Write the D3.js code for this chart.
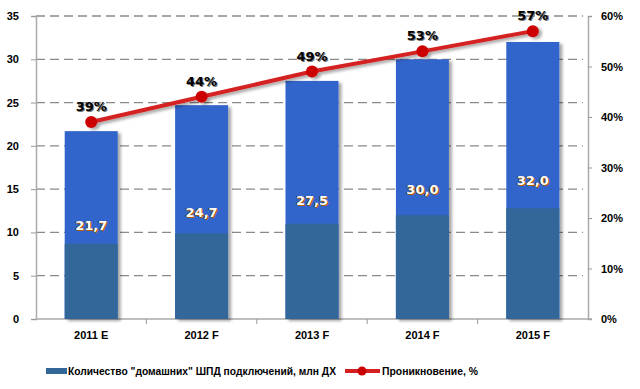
<!DOCTYPE html>
<html><head><meta charset="utf-8">
<script src="https://cdn.jsdelivr.net/npm/d3@7"></script>
<style>
body{margin:0;background:#fff;}
svg{display:block;font-family:Tahoma,"DejaVu Sans","Liberation Sans",sans-serif;}
.vlab{text-shadow:1px 1px 0 #b85c00,-1px 0 0 #333;}
</style></head><body>
<svg id="c" width="640" height="389"></svg>
<script>
const categories = ["2011 E","2012 F","2013 F","2014 F","2015 F"];
const households = [21.7, 24.7, 27.5, 30.0, 32.0];
const darkPart = [8.7, 9.9, 11.0, 12.0, 12.8];
const penetration = [0.39, 0.44, 0.49, 0.53, 0.57];
const leftTicks = [0,5,10,15,20,25,30,35];
const rightTicks = [0,0.1,0.2,0.3,0.4,0.5,0.6];
const seriesNames = ["Количество \"домашних\" ШПД подключений,  млн ДХ", "Проникновение, %"];

const svg = d3.select("#c");
const L = 36, R = 588, T = 16, B = 319;
const x = d3.scaleBand().domain(categories).range([L, R]).paddingInner(0.52).paddingOuter(0.26);
const y = d3.scaleLinear().domain([0,35]).range([B, T]);
const y2 = d3.scaleLinear().domain([0,0.6]).range([B, T]);

const defs = svg.append("defs");
const f = defs.append("filter").attr("id","sh").attr("x","-20%").attr("y","-20%").attr("width","150%").attr("height","150%");
f.append("feDropShadow").attr("dx",3).attr("dy",2).attr("stdDeviation",1.8).attr("flood-color","#000").attr("flood-opacity",0.35);

// gridlines
svg.append("g").selectAll("line").data(leftTicks.filter(d=>d>0)).join("line")
  .attr("x1", L).attr("x2", 583).attr("y1", d=>y(d)).attr("y2", d=>y(d))
  .attr("stroke","#8a8a8a").attr("stroke-width",1.3).attr("stroke-dasharray","9,5");

// left axis
const ga = svg.append("g").attr("transform",`translate(${L},0)`)
  .call(d3.axisLeft(y).tickValues(leftTicks).tickSize(5).tickPadding(12).tickFormat(d3.format("d")));
ga.select(".domain").attr("stroke","#aaa").attr("stroke-width",1.5);
ga.selectAll(".tick line").attr("stroke","#999");
ga.selectAll("text").attr("font-size",11).attr("font-weight","bold").attr("fill","#000");

// right axis
const gr = svg.append("g").attr("transform",`translate(${R},0)`)
  .call(d3.axisRight(y2).tickValues(rightTicks).tickSize(4).tickPadding(9).tickFormat(d3.format(".0%")));
gr.select(".domain").attr("stroke","#aaa").attr("stroke-width",1.5);
gr.selectAll(".tick line").attr("stroke","#999");
gr.selectAll("text").attr("font-size",11).attr("font-weight","bold").attr("fill","#000");

// bottom axis
const gb = svg.append("g").attr("transform",`translate(0,${B})`)
  .call(d3.axisBottom(x).tickSize(0).tickPadding(12));
gb.select(".domain").remove();
gb.selectAll("text").attr("font-size",11).attr("font-weight","bold").attr("fill","#000");
svg.append("line").attr("x1",L).attr("x2",R+4).attr("y1",B).attr("y2",B).attr("stroke","#aaa").attr("stroke-width",1.5);
const bounds = categories.slice(1).map(c => x(c) - x.step()*x.paddingInner()/2);
svg.append("g").selectAll("line").data(bounds).join("line")
  .attr("x1",d=>d).attr("x2",d=>d).attr("y1",B).attr("y2",B+5).attr("stroke","#999");

// bars
const bars = svg.append("g");
bars.selectAll("rect.top").data(households).join("rect").attr("class","top")
  .attr("x",(d,i)=>x(categories[i])).attr("width",x.bandwidth())
  .attr("y",d=>y(d)).attr("height",d=>B-y(d)).attr("fill","#3265cb").attr("filter","url(#sh)");
bars.selectAll("rect.bot").data(darkPart).join("rect").attr("class","bot")
  .attr("x",(d,i)=>x(categories[i])).attr("width",x.bandwidth())
  .attr("y",d=>y(d)).attr("height",d=>B-y(d)).attr("fill","#336699");

// value labels
svg.append("g").selectAll("text").data(households).join("text").attr("class","vlab")
  .attr("x",(d,i)=>x(categories[i])+x.bandwidth()/2).attr("y",d=>(y(d)+B)/2+5)
  .attr("text-anchor","middle").attr("font-size",13).attr("font-weight","bold").attr("fill","#fff")
  .text(d=>d3.format(".1f")(d).replace(".",","));

// line
const cx = (d,i)=>x(categories[i])+x.bandwidth()/2;
const lg = svg.append("g").attr("filter","url(#sh)");
lg.append("path").datum(penetration)
  .attr("d", d3.line().x(cx).y(d=>y2(d)))
  .attr("fill","none").attr("stroke","#d42020").attr("stroke-width",4);
lg.selectAll("circle").data(penetration).join("circle")
  .attr("cx",cx).attr("cy",d=>y2(d)).attr("r",6).attr("fill","#cc0000");

svg.append("g").selectAll("text").data(penetration).join("text")
  .attr("x",cx).attr("y",d=>y2(d)-11).attr("text-anchor","middle")
  .attr("font-size",13).attr("font-weight","bold").attr("fill","#000")
  .attr("style","text-shadow:1px 1px 0 #777")
  .text(d=>d3.format(".0%")(d));

// legend
const lgd = svg.append("g").attr("font-family","'Liberation Sans',Arial,sans-serif");
lgd.append("rect").attr("x",46).attr("y",368).attr("width",21).attr("height",6).attr("fill","#336699");
lgd.append("text").attr("x",68).attr("y",375).attr("font-size",10.5).attr("font-weight","bold").attr("fill","#000")
  .attr("textLength",268).attr("lengthAdjust","spacingAndGlyphs").text(seriesNames[0]);
lgd.append("line").attr("x1",345).attr("x2",380).attr("y1",371).attr("y2",371).attr("stroke","#d42020").attr("stroke-width",4);
lgd.append("circle").attr("cx",362).attr("cy",371).attr("r",4.5).attr("fill","#cc0000");
lgd.append("text").attr("x",382).attr("y",375).attr("font-size",10.5).attr("font-weight","bold").attr("fill","#000")
  .attr("textLength",96).attr("lengthAdjust","spacingAndGlyphs").text(seriesNames[1]);
</script></body></html>
